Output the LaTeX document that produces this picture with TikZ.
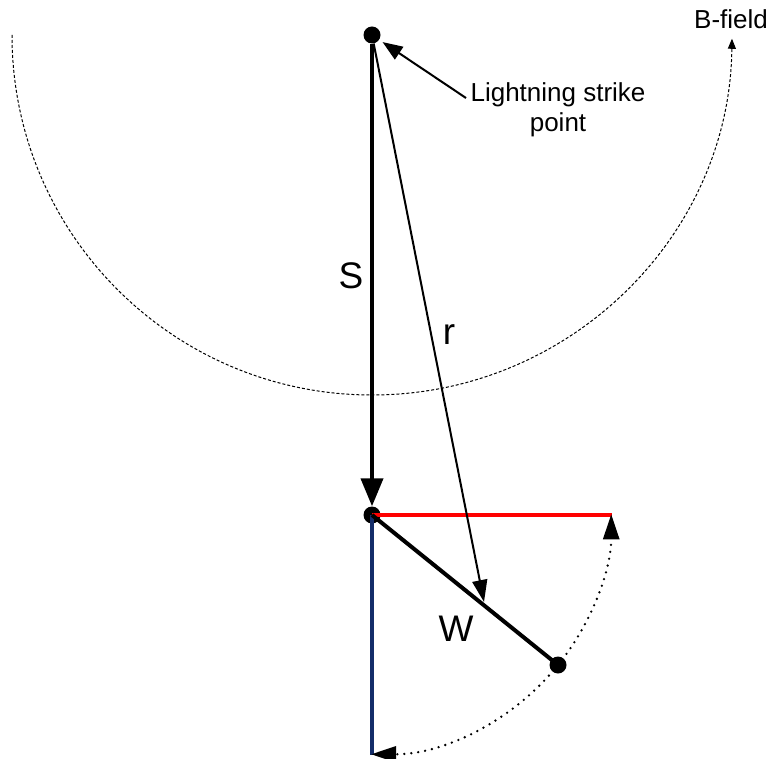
\documentclass[tikz,border=0pt]{standalone}
\usepackage{fontspec}
\setmainfont{Liberation Sans}
\usetikzlibrary{arrows.meta}
\definecolor{navy}{RGB}{20,45,105}
\begin{document}
\begin{tikzpicture}[x=1pt,y=-1pt,
  dotnode/.style={circle,fill=black,inner sep=0pt,minimum size=17pt},
  bigtxt/.style={font=\fontsize{37}{40}\selectfont,inner sep=0pt},
  lbltxt/.style={font=\fontsize{26}{30}\selectfont,inner sep=0pt,align=center},
  fieldarc/.style={dash pattern=on 3pt off 2pt,line width=1pt,-{Triangle[length=10pt,width=8pt]}},
  rotarc/.style={dash pattern=on 0pt off 7pt,line cap=round,line width=2.6pt,-{Triangle[length=25pt,width=16pt]}}
]
\useasboundingbox (0,0) rectangle (768,759);
% points
\node[dotnode] (P) at (372,35) {};
\node[dotnode] (Q) at (372,515) {};
\node[dotnode] (R) at (558,665) {};
\coordinate (redend) at (612,515);
\coordinate (blueend) at (372,755);
\coordinate (rend) at (484,602);
% B-field arc
\coordinate (arcstart) at (12,35);
\draw[fieldarc] (arcstart) arc[start angle=180,end angle=0.6,radius=360];
\node[lbltxt,anchor=base west] (bf) at (694,29) {B-field};
% lines
\draw[red,line width=4pt] (Q.center) -- (redend);
\draw[navy,line width=3.5pt] (Q.center) -- (blueend);
\draw[line width=4pt] (Q.center) -- (R.center);
\draw[line width=4pt,-{Triangle[length=28pt,width=22pt]}] (P) -- (Q);
\draw[line width=2pt,-{Triangle[length=22pt,width=15pt]}] (P) -- (rend);
% rotation arcs
\draw[rotarc] (R.center) arc[start angle=38.9,end angle=0,radius=240];
\draw[rotarc] (R.center) arc[start angle=38.9,end angle=90,radius=240];
% labels
\node[bigtxt,anchor=base] (S) at (351,288) {S};
\node[bigtxt,anchor=base] (r) at (449,344) {r};
\node[bigtxt,anchor=base] (W) at (456,641) {W};
\node[lbltxt,anchor=base] (lbl) at (558,132) {Lightning strike\\point};
\coordinate (la) at (466,98);
\draw[line width=2pt,-{Triangle[length=20pt,width=15pt]},shorten >=4pt] (la) -- (P);
\end{tikzpicture}
\end{document}
